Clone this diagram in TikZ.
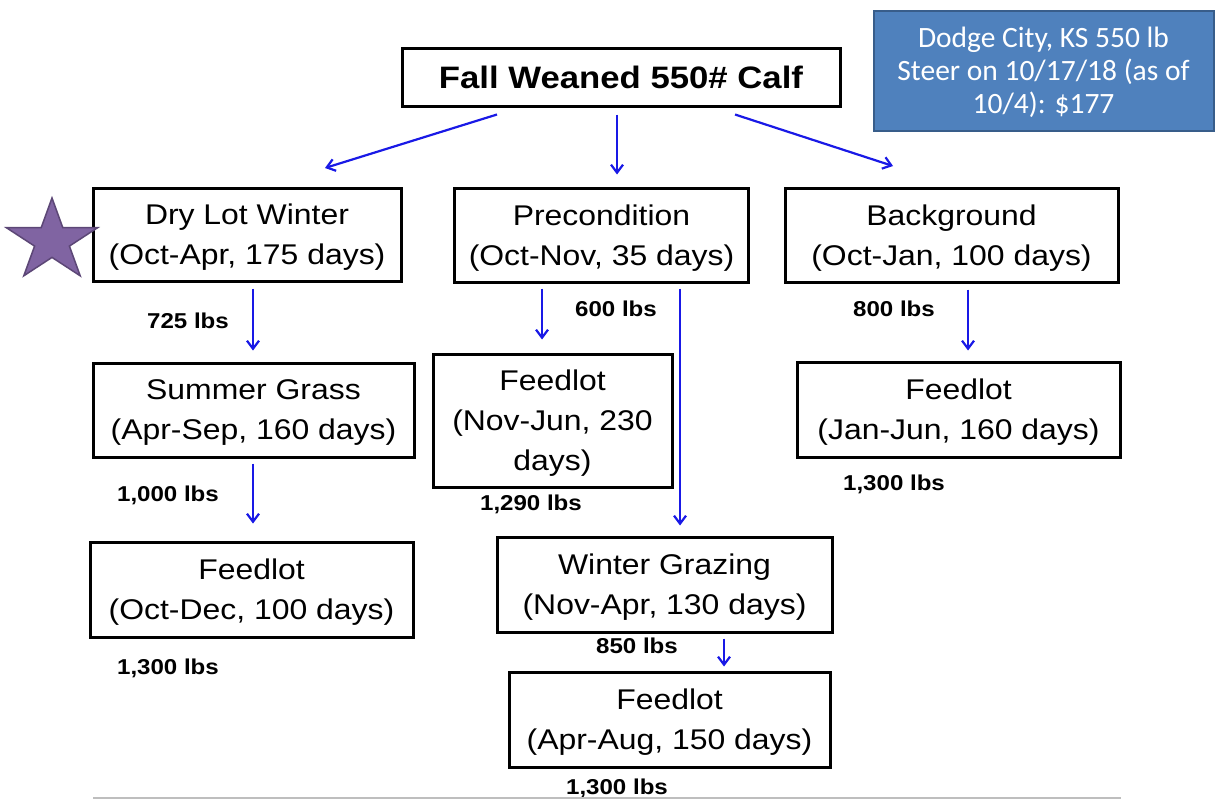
\documentclass[tikz,border=0pt]{standalone}
\usepackage{fontspec}
\setmainfont{Liberation Sans}[FakeStretch=1.12]
\newfontfamily\calibrifont{Carlito}
\usetikzlibrary{arrows.meta}
\definecolor{flowblue}{RGB}{25,25,230}
\definecolor{notefill}{RGB}{79,129,189}
\definecolor{noteline}{RGB}{56,93,138}
\definecolor{starfill}{RGB}{128,100,162}
\definecolor{starline}{RGB}{92,71,118}
\definecolor{ruleline}{RGB}{190,190,190}

\begin{document}
\begin{tikzpicture}[x=1pt, y=-1pt,
    boxnode/.style={draw=black, line width=3pt, fill=white, inner sep=0pt, align=center, text depth=0pt, font=\fontsize{28.5}{40}\selectfont},
    lbsnode/.style={inner sep=0pt, text height=16pt, text depth=0pt, font=\bfseries\fontsize{21.5}{24}\selectfont},
    flow/.style={flowblue, line width=2.2pt, -{Straight Barb[length=8pt,width=12pt]}}]

    \useasboundingbox (0,0) rectangle (1215,803);

    \node[boxnode, minimum width=438pt, minimum height=58pt, font=\bfseries\fontsize{31}{36}\selectfont](b1) at (621,77) {Fall Weaned 550\# Calf};

    \node[draw=noteline, fill=notefill, line width=2pt, minimum width=340pt, minimum height=120pt, inner sep=0pt, align=center, text depth=0pt, text=white, font=\calibrifont\fontsize{29.5}{33}\selectfont](n1) at (1043.5,70.5) {Dodge City, KS 550 lb\\Steer on 10/17/18 (as of\\10/4): \$177};

    \node[boxnode, minimum width=308pt, minimum height=93pt](b2) at (247,234.5) {Dry Lot Winter\\(Oct-Apr, 175 days)};
    \node[boxnode, minimum width=294pt, minimum height=94pt](b3) at (601.5,235) {Precondition\\(Oct-Nov, 35 days)};
    \node[boxnode, minimum width=333pt, minimum height=94pt](b4) at (951.5,235) {Background\\(Oct-Jan, 100 days)};

    \node[boxnode, minimum width=321pt, minimum height=94pt](b5) at (253.5,410) {Summer Grass\\(Apr-Sep, 160 days)};
    \node[boxnode, minimum width=239pt, minimum height=133pt](b6) at (552.5,420.5) {Feedlot\\(Nov-Jun, 230\\days)};
    \node[boxnode, minimum width=323pt, minimum height=95pt](b7) at (958.5,409.5) {Feedlot\\(Jan-Jun, 160 days)};

    \node[boxnode, minimum width=323pt, minimum height=95pt](b8) at (251.5,589.5) {Feedlot\\(Oct-Dec, 100 days)};
    \node[boxnode, minimum width=335pt, minimum height=95pt](b9) at (664.5,584.5) {Winter Grazing\\(Nov-Apr, 130 days)};
    \node[boxnode, minimum width=321pt, minimum height=95pt](b10) at (669.5,719.5) {Feedlot\\(Apr-Aug, 150 days)};

    % weights
    \node[lbsnode](w1) at (188,320) {725 lbs};
    \node[lbsnode](w2) at (616,308) {600 lbs};
    \node[lbsnode](w3) at (894,308) {800 lbs};
    \node[lbsnode](w4) at (168,493) {1,000 lbs};
    \node[lbsnode](w5) at (531,502) {1,290 lbs};
    \node[lbsnode](w6) at (894,482) {1,300 lbs};
    \node[lbsnode](w7) at (168,666) {1,300 lbs};
    \node[lbsnode](w8) at (637,645) {850 lbs};
    \node[lbsnode](w9) at (617,786) {1,300 lbs};

    \draw[starline, fill=starfill, line width=1.5pt] (52,198) -- (41.2,227.7) -- (6.4,227.7) -- (34.6,246.1) -- (23.8,275.8) -- (52,257.4) -- (80.2,275.8) -- (69.4,246.1) -- (97.6,227.7) -- (62.8,227.7) -- cycle;

    \coordinate (h1) at (325,168);
    \coordinate (h2) at (893,166);
    \coordinate (c1) at (253,0);
    \coordinate (c2) at (542,0);
    \coordinate (c3) at (680,0);
    \coordinate (c4) at (968,0);
    \coordinate (c5) at (724,0);
    \coordinate (c6) at (617,0);

            \draw[flow] ([xshift=-124pt,yshift=-7pt]b1.south) -- (h1);
            \draw[flow, shorten <=7pt, shorten >=12pt] (b1.south -| c6) -- (b3.north -| c6);
            \draw[flow] ([xshift=114pt,yshift=-7pt]b1.south) -- (h2);
            \draw[flow, shorten <=6pt, shorten >=11pt] (b2.south -| c1) -- (b5.north -| c1);
            \draw[flow, shorten <=5pt, shorten >=17pt] (b5.south -| c1) -- (b8.north -| c1);
            \draw[flow, shorten <=5pt, shorten >=13pt] (b3.south -| c2) -- (b6.north -| c2);
            \draw[flow, shorten <=5pt, shorten >=10pt] (b3.south -| c3) -- (b9.north -| c3);
            \draw[flow, shorten <=6pt, shorten >=10pt] (b4.south -| c4) -- (b7.north -| c4);
            \draw[flow, shorten <=5pt, shorten >=4pt] (b9.south -| c5) -- (b10.north -| c5);

    \draw[ruleline, line width=2.5pt] (93,798) -- (1121,798);

\end{tikzpicture}
\end{document}
